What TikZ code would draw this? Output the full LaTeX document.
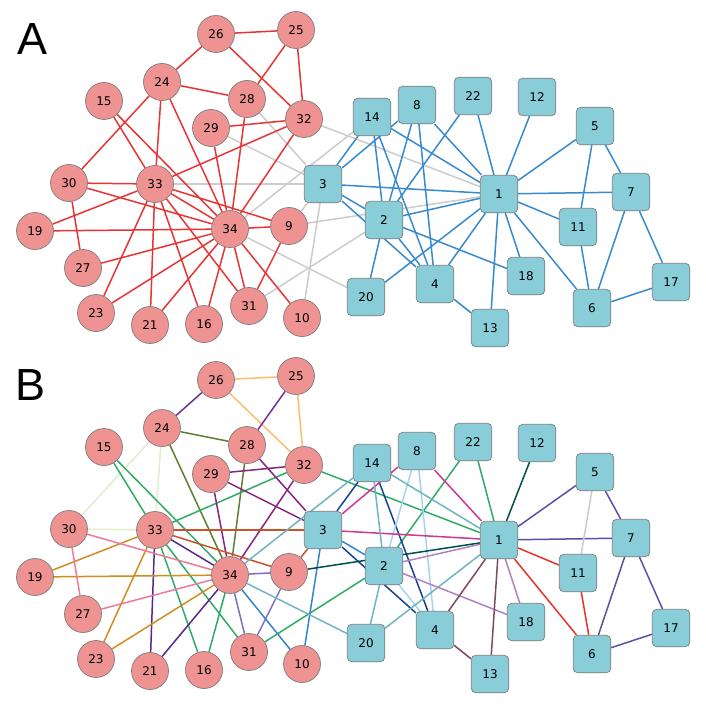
\documentclass[tikz,border=0pt]{standalone}
\usepackage{fontspec}
\setmainfont{DejaVu Sans}
\newfontfamily\lettfont{Liberation Sans}
\pgfdeclarelayer{edgelayer}
\pgfsetlayers{edgelayer,main}
\definecolor{circfill}{RGB}{239,146,146}
\definecolor{sqfill}{RGB}{136,205,216}
\definecolor{nodeborder}{RGB}{125,125,125}
\definecolor{redA}{RGB}{232,52,52}
\definecolor{blueA}{RGB}{56,138,206}
\definecolor{grayA}{RGB}{204,204,204}
\definecolor{lorange}{RGB}{250,190,110}
\definecolor{purpA}{RGB}{112,50,150}
\definecolor{purpB}{RGB}{136,36,126}
\definecolor{olive}{RGB}{92,128,48}
\definecolor{vlgreen}{RGB}{226,236,206}
\definecolor{greenB}{RGB}{46,172,102}
\definecolor{dpurp}{RGB}{86,42,140}
\definecolor{golden}{RGB}{210,140,32}
\definecolor{pinkB}{RGB}{236,124,150}
\definecolor{redbrown}{RGB}{202,82,42}
\definecolor{bpurpL}{RGB}{122,112,196}
\definecolor{blueB}{RGB}{52,132,202}
\definecolor{dblue}{RGB}{22,66,150}
\definecolor{lblue}{RGB}{166,212,240}
\definecolor{magentaB}{RGB}{212,52,146}
\definecolor{lteal}{RGB}{110,180,196}
\definecolor{dteal}{RGB}{0,80,72}
\definecolor{bpurp}{RGB}{90,80,166}
\definecolor{grayB}{RGB}{204,204,204}
\definecolor{redB}{RGB}{232,50,40}
\definecolor{lavender}{RGB}{176,130,196}
\definecolor{mauve}{RGB}{126,76,92}
\newcommand\aedges[2]{\foreach \u/\v in {#2} {\draw[edgeline,#1] (a\u) -- (a\v);}}
\newcommand\bedges[2]{\foreach \u/\v in {#2} {\draw[edgeline,#1] (b\u) -- (b\v);}}
\begin{document}
\begin{tikzpicture}[x=1pt,y=-1pt,
  circ/.style={circle,draw=nodeborder,fill=circfill,line width=0.7pt,minimum size=37pt,inner sep=0pt,font=\fontsize{12}{14}\selectfont},
  sq/.style={rectangle,rounded corners=4.5pt,draw=nodeborder,fill=sqfill,line width=0.7pt,minimum size=37.5pt,inner sep=0pt,font=\fontsize{12}{14}\selectfont},
  edgeline/.style={line width=1.5pt},
  letter/.style={font=\lettfont\fontsize{45}{50}\selectfont,inner sep=0pt}]
\path[use as bounding box] (0,0) rectangle (706,706);
\node[letter] (LA) at (33,39) {A};
\node[letter] (LB) at (31,385) {B};
\foreach \i/\x/\y in {26/216/34, 25/296/30, 24/162/82, 15/104/101, 28/247/99, 32/304/119, 29/211/128, 30/69/183, 33/155/184, 19/35/231, 34/230/229, 9/289/226, 27/83/268, 23/96/313, 21/150/325, 16/204/324, 31/249/306, 10/302/318} {
  \node[circ] (a\i) at (\x,\y) {\i};
  \node[circ] (b\i) at (\x,{\y+346}) {\i};
}
\foreach \i/\x/\y in {14/372/117, 8/417/105, 22/473/96, 12/537/97, 5/595/126, 3/323/184, 1/499/194, 7/631/192, 2/384/220, 11/578/227, 18/526/276, 17/671/282, 4/435/284, 20/366/297, 6/592/308, 13/490/328} {
  \node[sq] (a\i) at (\x,\y) {\i};
  \node[sq] (b\i) at (\x,{\y+346}) {\i};
}
\begin{pgfonlayer}{edgelayer}
\fill[white] (0,0) rectangle (706,706);
% Panel A
\aedges{grayA}{1/9, 1/32, 2/31, 3/9, 3/10, 3/28, 3/29, 3/33, 14/34, 20/34}
\aedges{redA}{9/31, 9/33, 9/34, 10/34, 15/33, 15/34, 16/33, 16/34, 19/33, 19/34, 21/33, 21/34, 23/33, 23/34, 24/26, 24/28, 24/30, 24/33, 24/34, 25/26, 25/28, 25/32, 26/32, 27/30, 27/34, 28/34, 29/32, 29/34, 30/33, 30/34, 31/33, 31/34, 32/33, 32/34, 33/34}
\aedges{blueA}{1/2, 1/3, 1/4, 1/5, 1/6, 1/7, 1/8, 1/11, 1/12, 1/13, 1/14, 1/18, 1/20, 1/22, 2/3, 2/4, 2/8, 2/14, 2/18, 2/20, 2/22, 3/4, 3/8, 3/14, 4/8, 4/13, 4/14, 5/7, 5/11, 6/7, 6/11, 6/17, 7/17}
% Panel B
\bedges{lorange}{25/26, 26/32, 25/32}
\bedges{purpA}{24/26, 25/28}
\bedges{olive}{24/28, 24/34, 28/34}
\bedges{vlgreen}{24/30, 24/33, 30/33}
\bedges{greenB}{15/33, 15/34, 16/33, 16/34, 31/33, 32/33, 1/32, 1/22, 2/22, 2/31}
\bedges{purpB}{29/32, 29/34, 3/29, 3/28, 32/34}
\bedges{dpurp}{21/33, 21/34, 33/34}
\bedges{golden}{19/33, 19/34, 23/33, 23/34}
\bedges{pinkB}{27/30, 27/34, 30/34}
\bedges{redbrown}{3/33, 3/9, 9/33}
\bedges{bpurpL}{9/34, 9/31, 31/34}
\bedges{blueB}{10/34, 3/10, 2/3}
\bedges{dblue}{3/14, 3/4, 4/14}
\bedges{lblue}{2/8, 4/8, 2/4}
\bedges{magentaB}{1/3, 1/8, 3/8}
\bedges{lteal}{1/14, 2/14, 14/34, 1/20, 2/20, 20/34}
\bedges{dteal}{1/12, 1/9}
\bedges{bpurp}{1/5, 5/7, 1/7, 6/7, 7/17, 6/17}
\bedges{grayB}{5/11}
\bedges{redB}{1/11, 1/6, 6/11}
\bedges{lavender}{1/2, 1/18, 2/18}
\bedges{mauve}{1/4, 1/13, 4/13}
\end{pgfonlayer}
\end{tikzpicture}
\end{document}
